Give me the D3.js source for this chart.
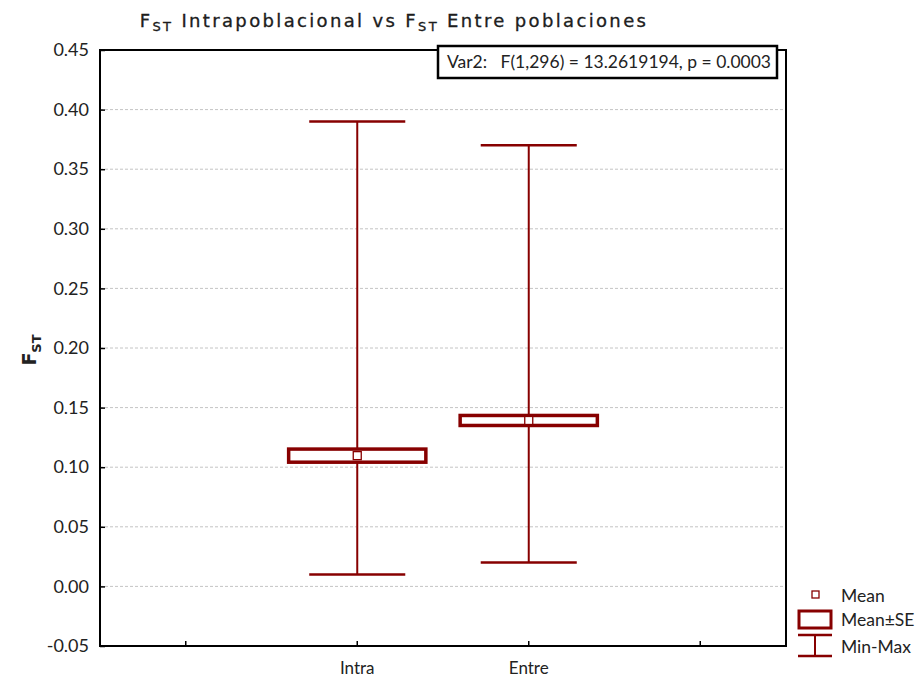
<!DOCTYPE html>
<html>
<head>
<meta charset="utf-8">
<script src="https://cdn.jsdelivr.net/npm/d3@7"></script>
<style>
  body { margin: 0; background: #fff; }
  svg text { fill: #222; }
</style>
</head>
<body>
<svg id="chart" width="917" height="679"></svg>
<script>
// Summary statistics of F_ST per comparison group
const groups = ["Intra", "Entre"];
const means = [0.1097, 0.1392];
const stdErrors = [0.0055, 0.0042];
const minima = [0.01, 0.02];
const maxima = [0.39, 0.37];

// Axis settings
const xSlots = ["s0", "Intra", "Entre", "s3"];
const yTicks = [-0.05, 0, 0.05, 0.10, 0.15, 0.20, 0.25, 0.30, 0.35, 0.40, 0.45];
const statsText = "Var2:   F(1,296) = 13.2619194, p = 0.0003";
const legendLabels = ["Mean", "Mean\u00b1SE", "Min-Max"];

const RED = "#870000";
const LABEL_FONT = "Lato, 'Liberation Sans', sans-serif";

const svg = d3.select("#chart");
const plot = { left: 100, right: 786, top: 50, bottom: 646 };

const x = d3.scaleBand().domain(xSlots).range([plot.left, plot.right]).paddingInner(0).paddingOuter(0);
const y = d3.scaleLinear().domain([-0.05, 0.45]).range([plot.bottom, plot.top]);
const cx = g => x(g) + x.bandwidth() / 2;
const fmt2 = d3.format(".2f");
const yFormat = d => fmt2(d).replace("\u2212", "-");

// Dashed grid lines
svg.append("g")
  .selectAll("line")
  .data(yTicks.slice(1, -1))
  .join("line")
  .attr("x1", plot.left).attr("x2", plot.right)
  .attr("y1", d => y(d)).attr("y2", d => y(d))
  .attr("stroke", "#c4c4c4").attr("stroke-width", 1)
  .attr("stroke-dasharray", "3,2");

// Y axis
const yAxis = svg.append("g")
  .attr("transform", `translate(${plot.left},0)`)
  .call(d3.axisLeft(y).tickValues(yTicks).tickFormat(yFormat)
    .tickSizeInner(-5).tickSizeOuter(0).tickPadding(11));
yAxis.select(".domain").remove();
yAxis.selectAll(".tick line").attr("stroke", "#000").attr("stroke-width", 1.5);
yAxis.selectAll(".tick text").attr("font-family", LABEL_FONT).attr("font-size", 18).attr("fill", "#222");

// X axis
const xAxis = svg.append("g")
  .attr("transform", `translate(0,${plot.bottom})`)
  .call(d3.axisBottom(x).tickFormat(d => groups.includes(d) ? d : "")
    .tickSizeInner(-5).tickSizeOuter(0).tickPadding(16));
xAxis.select(".domain").remove();
xAxis.selectAll(".tick line").attr("stroke", "#000").attr("stroke-width", 1.5);
xAxis.selectAll(".tick text").attr("font-family", LABEL_FONT).attr("font-size", 17).attr("fill", "#222");

// Plot frame
svg.append("rect")
  .attr("x", plot.left).attr("y", plot.top)
  .attr("width", plot.right - plot.left).attr("height", plot.bottom - plot.top)
  .attr("fill", "none").attr("stroke", "#000").attr("stroke-width", 2);

// Whiskers, SE boxes and mean markers
const bw = x.bandwidth();
const boxW = bw * 0.8;
const capW = bw * 0.56;
const rows = groups.map((g, i) => ({ g, mean: means[i], se: stdErrors[i], min: minima[i], max: maxima[i] }));

const marks = svg.append("g").selectAll("g").data(rows).join("g");
marks.append("line")
  .attr("x1", d => cx(d.g)).attr("x2", d => cx(d.g))
  .attr("y1", d => y(d.min)).attr("y2", d => y(d.max))
  .attr("stroke", RED).attr("stroke-width", 2);
marks.append("line")
  .attr("x1", d => cx(d.g) - capW / 2).attr("x2", d => cx(d.g) + capW / 2)
  .attr("y1", d => y(d.max)).attr("y2", d => y(d.max))
  .attr("stroke", RED).attr("stroke-width", 2.5);
marks.append("line")
  .attr("x1", d => cx(d.g) - capW / 2).attr("x2", d => cx(d.g) + capW / 2)
  .attr("y1", d => y(d.min)).attr("y2", d => y(d.min))
  .attr("stroke", RED).attr("stroke-width", 2.5);
marks.append("rect")
  .attr("x", d => cx(d.g) - boxW / 2)
  .attr("y", d => y(d.mean + d.se))
  .attr("width", boxW)
  .attr("height", d => y(d.mean - d.se) - y(d.mean + d.se))
  .attr("fill", "#fff").attr("stroke", RED).attr("stroke-width", 3.5);
marks.append("rect")
  .attr("x", d => cx(d.g) - 4).attr("y", d => y(d.mean) - 4)
  .attr("width", 8).attr("height", 8)
  .attr("fill", "#fff").attr("stroke", RED).attr("stroke-width", 1.3);

// Test statistic box
const statBox = svg.append("g");
statBox.append("rect")
  .attr("x", 438).attr("y", 46).attr("width", 339).attr("height", 32)
  .attr("fill", "#fff").attr("stroke", "#000").attr("stroke-width", 2.5);
statBox.append("text")
  .attr("x", 447).attr("y", 68)
  .attr("font-family", LABEL_FONT).attr("font-size", 17)
  .attr("textLength", 324).attr("lengthAdjust", "spacingAndGlyphs")
  .attr("xml:space", "preserve")
  .text(statsText);

// Title with subscripts
const title = svg.append("text")
  .attr("x", 394).attr("y", 27)
  .attr("text-anchor", "middle")
  .attr("font-family", "'DejaVu Sans', sans-serif")
  .attr("font-size", 18).attr("letter-spacing", 2.35)
  .attr("fill", "#111").attr("stroke", "#111").attr("stroke-width", 0.3);
title.append("tspan").text("F");
title.append("tspan").attr("font-size", 13).attr("dy", 4).text("ST");
title.append("tspan").attr("dy", -4).text(" Intrapoblacional vs F");
title.append("tspan").attr("font-size", 13).attr("dy", 4).text("ST");
title.append("tspan").attr("dy", -4).text(" Entre poblaciones");

// Y axis title
const yTitle = svg.append("text")
  .attr("transform", "translate(36,350) rotate(-90)")
  .attr("text-anchor", "middle")
  .attr("font-family", "'DejaVu Sans', sans-serif")
  .attr("font-weight", "bold").attr("font-size", 19).attr("fill", "#111");
yTitle.append("tspan").text("F");
yTitle.append("tspan").attr("font-size", 13).attr("dy", 5).text("ST");

// Legend
const lg = svg.append("g");
lg.append("rect").attr("x", 812).attr("y", 591).attr("width", 7).attr("height", 7)
  .attr("fill", "#fff").attr("stroke", RED).attr("stroke-width", 1.3);
lg.append("rect").attr("x", 799).attr("y", 611).attr("width", 32).attr("height", 17)
  .attr("fill", "#fff").attr("stroke", RED).attr("stroke-width", 3);
lg.append("line").attr("x1", 798).attr("x2", 832).attr("y1", 635).attr("y2", 635)
  .attr("stroke", RED).attr("stroke-width", 2.5);
lg.append("line").attr("x1", 798).attr("x2", 832).attr("y1", 656).attr("y2", 656)
  .attr("stroke", RED).attr("stroke-width", 2.5);
lg.append("line").attr("x1", 815).attr("x2", 815).attr("y1", 635).attr("y2", 656)
  .attr("stroke", RED).attr("stroke-width", 2);
lg.selectAll("text.leg").data(legendLabels).join("text")
  .attr("class", "leg")
  .attr("x", 841).attr("y", (d, i) => [596, 620, 647][i])
  .attr("dy", "0.35em")
  .attr("font-family", LABEL_FONT).attr("font-size", 17.5)
  .text(d => d);
</script>
</body>
</html>
